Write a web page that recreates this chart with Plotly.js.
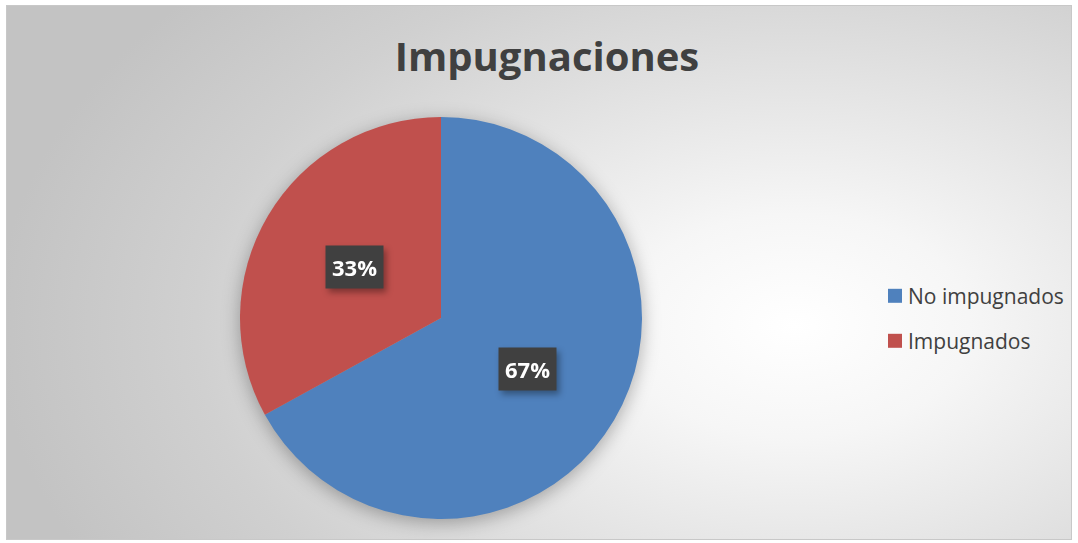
<!DOCTYPE html>
<html>
<head>
<meta charset="utf-8">
<script src="https://cdn.plot.ly/plotly-3.0.1.min.js"></script>
<style>
html,body{margin:0;padding:0;background:#ffffff;}
#wrap{position:relative;width:1078px;height:543px;}
#bg{position:absolute;left:6px;top:5px;width:1066px;height:535px;box-sizing:border-box;border:1px solid #c8c8c8;
background:radial-gradient(ellipse 75% 95% at 74% 60%, #ffffff 0%, #f6f6f6 22%, #e2e2e2 50%, #d0d0d0 75%, #c3c3c3 100%);}
#chart{position:absolute;left:0;top:0;width:1078px;height:543px;}
#chart .pielayer{filter:drop-shadow(0px 4px 9px rgba(0,0,0,0.3));}
#chart .infolayer .annotation{filter:drop-shadow(3px 4px 3px rgba(0,0,0,0.35));}
</style>
</head>
<body>
<div id="wrap"><div id="bg"></div><div id="chart"></div></div>
<script>
var categories = ["No impugnados", "Impugnados"];
var values = [67, 33];
var colors = ["#4F81BD", "#C0504D"];
var chartTitle = "Impugnaciones";

var W = 1078, H = 543;
var domX = [240 / W, 642 / W];
var domY = [1 - 519 / H, 1 - 117 / H];

var total = values.reduce(function (a, b) { return a + b; }, 0);
var cx = (domX[0] + domX[1]) / 2, cy = (domY[0] + domY[1]) / 2;
var Rpx = Math.min((domX[1] - domX[0]) * W, (domY[1] - domY[0]) * H) / 2;
var annotations = [];
var cum = 0;
values.forEach(function (v) {
  var mid = (cum + v / 2) / total * 2 * Math.PI;
  cum += v;
  var rr = 0.5 * Rpx;
  annotations.push({
    xref: "paper", yref: "paper",
    x: cx + rr * Math.sin(mid) / W,
    y: cy + rr * Math.cos(mid) / H,
    xanchor: "center", yanchor: "middle",
    text: "<b>" + Math.round(v / total * 100) + "%</b>",
    showarrow: false,
    font: {family: "Open Sans", size: 22, color: "#ffffff"},
    bgcolor: "#404040",
    borderpad: 6
  });
});

var data = [{
  type: "pie",
  labels: categories,
  values: values,
  sort: false,
  direction: "clockwise",
  rotation: 0,
  marker: {colors: colors, line: {width: 0}},
  textinfo: "none",
  hoverinfo: "label+percent",
  domain: {x: domX, y: domY}
}];

var layout = {
  width: W, height: H,
  margin: {l: 0, r: 0, t: 0, b: 0},
  paper_bgcolor: "rgba(0,0,0,0)",
  plot_bgcolor: "rgba(0,0,0,0)",
  title: {
    text: "<b>" + chartTitle + "</b>",
    font: {family: "Open Sans", size: 40, color: "#404040"},
    x: 547 / W, xanchor: "center",
    y: 1 - 57 / H, yanchor: "middle"
  },
  showlegend: true,
  legend: {
    x: 875 / W, xanchor: "left",
    y: 1 - 318.5 / H, yanchor: "middle",
    font: {family: "Open Sans", size: 21, color: "#404040"},
    bgcolor: "rgba(0,0,0,0)",
    itemwidth: 30
  },
  annotations: annotations
};

Plotly.newPlot("chart", data, layout, {displayModeBar: false, staticPlot: true}).then(function (gd) {
  // widen legend row spacing and tighten symbol-text gap (cosmetic)
  var rowGap = 45;
  var traces = gd.querySelectorAll(".legend .traces");
  var ys = [];
  traces.forEach(function (t) {
    var m = /translate\(([-\d.]+)[ ,]+([-\d.]+)\)/.exec(t.getAttribute("transform") || "");
    ys.push(m ? [parseFloat(m[1]), parseFloat(m[2])] : [0, 0]);
  });
  if (ys.length > 1) {
    var n = ys.length;
    var midY = (ys[0][1] + ys[n - 1][1]) / 2;
    traces.forEach(function (t, i) {
      var ny = midY + (i - (n - 1) / 2) * rowGap;
      t.setAttribute("transform", "translate(" + ys[i][0] + "," + ny + ")");
    });
  }
  gd.querySelectorAll(".legend .legendtext").forEach(function (el) {
    el.setAttribute("x", 33);
  });
  gd.querySelectorAll(".legend .legendpoints path").forEach(function (el) {
    el.setAttribute("d", "M7,7H-7V-7H7Z");
  });
});
</script>
</body>
</html>
